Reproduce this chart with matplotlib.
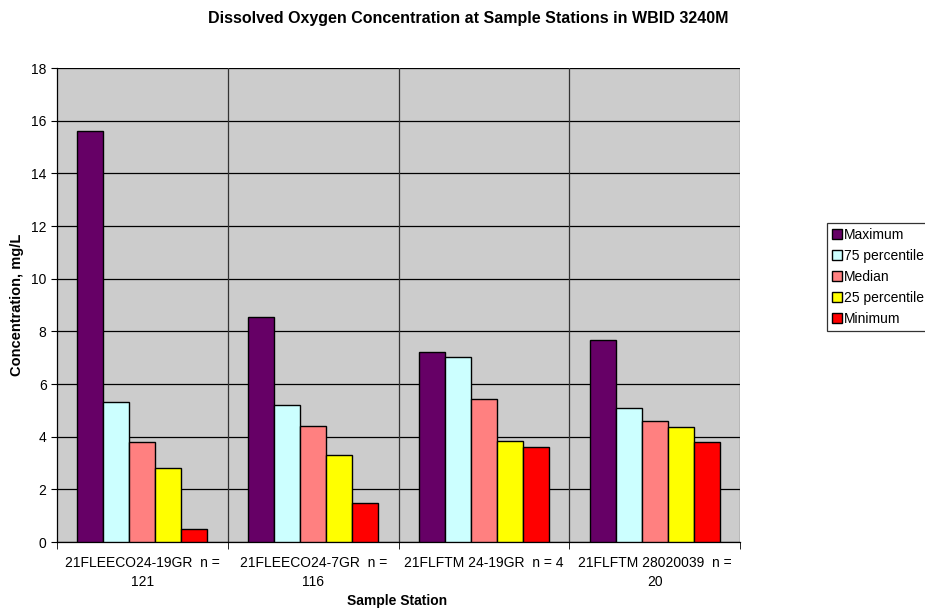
import matplotlib
matplotlib.use("Agg")
import matplotlib.pyplot as plt
import numpy as np

plt.rcParams['font.family'] = ['Liberation Sans', 'DejaVu Sans']

stations = ["21FLEECO24-19GR  n =\n121", "21FLEECO24-7GR  n =\n116",
            "21FLFTM 24-19GR  n = 4", "21FLFTM 28020039  n =\n20"]
series_names = ["Maximum", "75 percentile", "Median", "25 percentile", "Minimum"]
maximum = [15.6, 8.55, 7.2, 7.67]
p75 = [5.3, 5.2, 7.03, 5.1]
median = [3.8, 4.4, 5.43, 4.6]
p25 = [2.8, 3.3, 3.84, 4.37]
minimum = [0.5, 1.5, 3.6, 3.78]
colors = ["#660066", "#CCFFFF", "#FF8080", "#FFFF00", "#FF0000"]

fig = plt.figure(figsize=(9.25, 6.11), dpi=100)
ax = fig.add_axes([57 / 925, 69 / 611, (740 - 57) / 925, (543 - 69) / 611])
ax.set_facecolor("#CCCCCC")

data = [maximum, p75, median, p25, minimum]
x = np.arange(len(stations))
w = 0.152
for i, (vals, name, c) in enumerate(zip(data, series_names, colors)):
    ax.bar(x + (i - 2) * w, vals, width=w, color=c, edgecolor="black",
           linewidth=1.0, label=name, zorder=3)

ax.set_xlim(-0.5, len(stations) - 0.5)
ax.set_ylim(0, 18)
ax.set_yticks(np.arange(0, 19, 2))
ax.yaxis.grid(True, color="black", linewidth=0.9, zorder=1)
for b in np.arange(0.5, len(stations) - 0.5, 1):
    ax.axvline(b, color="#333333", linewidth=0.9, zorder=1)
ax.axvline(len(stations) - 0.5, color="#333333", linewidth=0.9, zorder=1)
ax.set_axisbelow(True)

ax.set_xticks(x)
ax.set_xticklabels(stations, fontsize=10, linespacing=1.5)
ax.tick_params(axis='x', length=0, pad=10)
ax.set_xticks(np.arange(-0.5, len(stations), 1), minor=True)
ax.tick_params(axis='x', which='minor', length=5, direction='out')
ax.tick_params(axis='y', labelsize=10, length=4, direction='out')

for s in ["top", "right"]:
    ax.spines[s].set_visible(False)
for s in ["left", "bottom"]:
    ax.spines[s].set_color("black")
    ax.spines[s].set_linewidth(0.9)

fig.text(468 / 925, 1 - 18 / 611,
         "Dissolved Oxygen Concentration at Sample Stations in WBID 3240M",
         fontsize=11.5, fontweight="bold", ha="center", va="center")
fig.text(17 / 925, 1 - 305 / 611, "Concentration, mg/L", fontsize=10.5,
         fontweight="bold", rotation=90, ha="center", va="center")
fig.text(397 / 925, 1 - 601 / 611, "Sample Station", fontsize=10,
         fontweight="bold", ha="center", va="center")

leg = fig.legend(loc="upper left", bbox_to_anchor=(827 / 925, 1 - 223 / 611), fontsize=10,
                 frameon=True, fancybox=False, edgecolor="black",
                 handlelength=0.7, handleheight=0.7, handletextpad=0.2,
                 labelspacing=0.5, borderpad=0.35, borderaxespad=0)
leg.get_frame().set_linewidth(0.9)

fig.savefig("out.png", dpi=100)
